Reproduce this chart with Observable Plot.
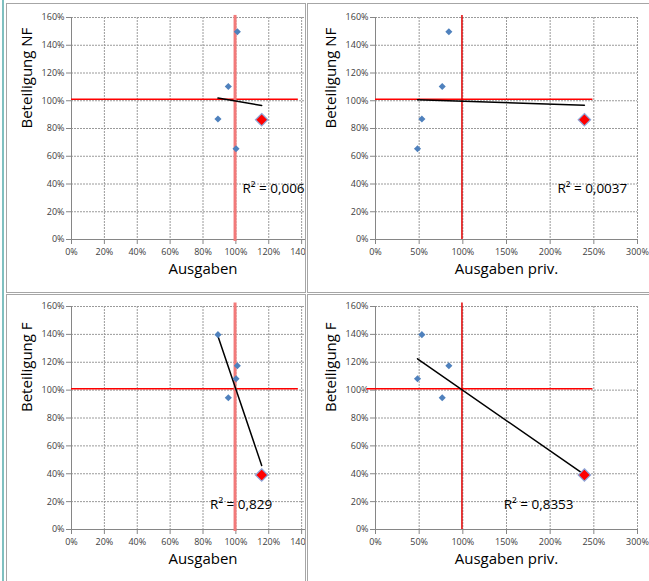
<!DOCTYPE html>
<html>
<head>
<meta charset="utf-8">
<script src="https://cdn.jsdelivr.net/npm/d3@7"></script>
<script src="https://cdn.jsdelivr.net/npm/@observablehq/plot@0.6"></script>
<style>
  html, body { margin: 0; padding: 0; background: #fff; }
  #root { position: relative; width: 649px; height: 581px; overflow: hidden; background: #fff; font-family: "Open Sans", sans-serif; }
  .panel { position: absolute; box-sizing: border-box; border: 1px solid #a6a6a6; overflow: hidden; background: #fff; }
  .panel svg { display: block; overflow: visible; max-width: none !important; }
  #teal { position: absolute; left: 2px; top: 0; width: 2px; height: 581px; background: #7fc0c0; }
</style>
</head>
<body>
<div id="root">
  <div id="teal"></div>
  <div class="panel" id="p1" style="left:6px; top:3px; width:300px; height:290px;"></div>
  <div class="panel" id="p2" style="left:307px; top:3px; width:345px; height:290px;"></div>
  <div class="panel" id="p3" style="left:6px; top:294px; width:300px; height:290px;"></div>
  <div class="panel" id="p4" style="left:307px; top:294px; width:345px; height:290px;"></div>
</div>
<script>
// ---- data (percent values) ----
const ausgaben      = [100.9, 95.4, 89.1, 100.1, 115.7];
const ausgabenPriv  = [84.0, 76.4, 53.1, 48.1, 239.2];
const beteiligungNF = [149.7, 110.3, 86.8, 65.4, 86.3];
const beteiligungF  = [117.5, 94.5, 139.8, 108.2, 39.1];
const highlighted   = [false, false, false, false, true];

const xTitles = ["Ausgaben", "Ausgaben priv.", "Ausgaben", "Ausgaben priv."];
const yTitles = ["Beteiligung NF", "Beteiligung NF", "Beteiligung F", "Beteiligung F"];
const r2Labels = ["R² = 0,006", "R² = 0,0037", "R² = 0,829", "R² = 0,8353"];

const ticksAusgaben = [0, 20, 40, 60, 80, 100, 120, 140];
const ticksPriv = [0, 50, 100, 150, 200, 250, 300];
const ticksY = [0, 20, 40, 60, 80, 100, 120, 140, 160];

// reference (mean) lines
const meanLineY = 101;
const meanLineX = [99.5, 99, 99.5, 99];

const rows = ausgaben.map((a, i) => ({
  ausgaben: a, priv: ausgabenPriv[i], nf: beteiligungNF[i], f: beteiligungF[i], hi: highlighted[i]
}));

const pct = d => d + "%";

function panel(cfg) {
  const {xKey, yKey, xTicks, xMax, idx, width, height, mt, mb, ml, mr, vStyle, hx1, hx2, vy1, vy2, r2x, r2y, ty} = cfg;
  const grid = {stroke: "#9a9a9a", strokeOpacity: 1, strokeDasharray: "2,1", strokeWidth: 1};
  return Plot.plot({
    width, height,
    marginTop: mt, marginBottom: mb, marginLeft: ml, marginRight: mr,
    style: {fontFamily: "Open Sans", fontSize: "9px", color: "#404040", background: "transparent", maxWidth: "none"},
    x: {domain: [0, xMax]},
    y: {domain: [0, 160]},
    marks: [
      Plot.gridX(xTicks.filter(d => d > 0), grid),
      Plot.gridY(ticksY.filter(d => d > 0), grid),
      Plot.ruleY([0], {stroke: "#868686"}),
      Plot.ruleX([0], {stroke: "#868686"}),
      Plot.axisX(xTicks, {tickSize: 5, tickPadding: 4, tickFormat: pct, stroke: "#868686", label: null, fontSize: 9}),
      Plot.axisY(ticksY, {tickSize: 5, tickPadding: 2, tickFormat: pct, stroke: "#868686", label: null, fontSize: 9}),
      Plot.ruleY([meanLineY], {x1: hx1, x2: hx2, stroke: "#ff0000", strokeWidth: 1.5}),
      Plot.ruleX([meanLineX[idx]], {y1: vy1, y2: vy2, ...vStyle}),
      Plot.linearRegressionY(rows, {x: xKey, y: yKey, ci: 0, stroke: "#000", strokeWidth: 1.5}),
      Plot.dot(rows.filter(d => !d.hi), {x: xKey, y: yKey, symbol: "diamond2", r: 3.2, fill: "#4f81bd"}),
      Plot.dot(rows.filter(d => d.hi), {x: xKey, y: yKey, symbol: "diamond2", r: 5.6, fill: "#ff0000", stroke: "#8ea9db", strokeWidth: 1.2}),
      Plot.text([r2Labels[idx]], {x: () => r2x, y: () => r2y, text: d => d, textAnchor: "start", fontSize: 13.5, fill: "#000"}),
      Plot.text([xTitles[idx]], {frameAnchor: "bottom", dy: 34, text: d => d, fontSize: 15, fill: "#000"}),
      Plot.text([yTitles[idx]], {frameAnchor: "left", rotate: -90, dx: -44, dy: ty, text: d => d, fontSize: 15, fill: "#000"})
    ]
  });
}

const thickPink = {stroke: "#f27a7a", strokeWidth: 3};
const thinRed = {stroke: "#e00000", strokeWidth: 1.5};

document.getElementById("p1").append(panel({
  xKey: "ausgaben", yKey: "nf", xTicks: ticksAusgaben, xMax: 160, idx: 0,
  width: 340, height: 288, mt: 13, mb: 53, ml: 64, mr: 13,
  vStyle: thickPink, hx1: 0, hx2: 138, vy1: -1.4, vy2: 161.5, r2x: 104, r2y: 36.8, ty: 0
}));
document.getElementById("p2").append(panel({
  xKey: "priv", yKey: "nf", xTicks: ticksPriv, xMax: 300, idx: 1,
  width: 341, height: 288, mt: 13, mb: 53, ml: 67, mr: 12,
  vStyle: thinRed, hx1: 0, hx2: 249, vy1: 0, vy2: 161.5, r2x: 208.3, r2y: 36.8, ty: 0
}));
document.getElementById("p3").append(panel({
  xKey: "ausgaben", yKey: "f", xTicks: ticksAusgaben, xMax: 160, idx: 2,
  width: 340, height: 286, mt: 11, mb: 52, ml: 64, mr: 13,
  vStyle: thickPink, hx1: 0, hx2: 138, vy1: -1.4, vy2: 162.5, r2x: 84.3, r2y: 17.5, ty: -6
}));
document.getElementById("p4").append(panel({
  xKey: "priv", yKey: "f", xTicks: ticksPriv, xMax: 300, idx: 3,
  width: 341, height: 286, mt: 11, mb: 52, ml: 67, mr: 12,
  vStyle: thinRed, hx1: -10, hx2: 249, vy1: 0, vy2: 162.5, r2x: 146.8, r2y: 17.5, ty: -6
}));
</script>
</body>
</html>
